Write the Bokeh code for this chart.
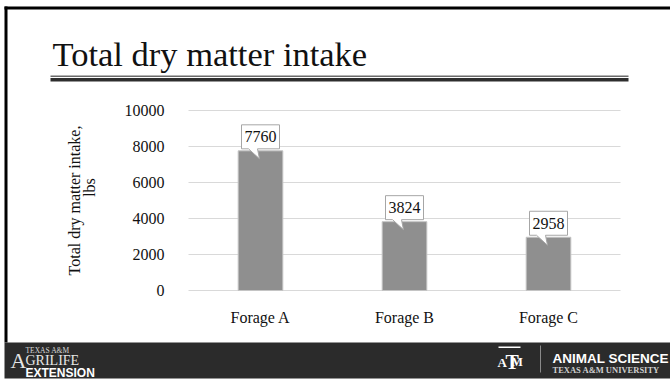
import math
from bokeh.plotting import figure
from bokeh.models import Range1d, FixedTicker, LabelSet, ColumnDataSource
from bokeh.core.properties import value
from bokeh.embed import file_html
from bokeh.resources import INLINE

# ---- data ----
categories = ["Forage A", "Forage B", "Forage C"]
intake_lbs = [7760, 3824, 2958]
y_ticks = [0, 2000, 4000, 6000, 8000, 10000]
y_max = 10000
title_text = "Total dry matter intake"
y_title_lines = ["Total dry matter intake,", "lbs"]

# ---- layout (canvas pixels) ----
W, H = 670, 381
CL, CR, CT, CB = 188, 620, 110, 290   # chart area inside the canvas
SERIF = "Liberation Serif"
SANS = "Liberation Sans"

ncat = len(categories)
sx = ncat / (CR - CL)          # data units per pixel (x)
sy = y_max / (CB - CT)         # data units per pixel (y)

p = figure(width=W, height=H, output_backend="svg", toolbar_location=None,
           x_range=Range1d(-CL * sx, (W - CL) * sx),
           y_range=Range1d(-(H - CB) * sy, CB * sy),
           min_border=0)
p.title = None
p.outline_line_color = None
p.background_fill_color = "white"
p.border_fill_color = "white"
p.extra_x_ranges = {"px": Range1d(0, W)}
p.extra_y_ranges = {"px": Range1d(0, H)}

xs = [i + 0.5 for i in range(ncat)]
src = ColumnDataSource(dict(x=xs, top=intake_lbs, label=[str(v) for v in intake_lbs]))

# axes placed inside the frame
p.xgrid.visible = False
p.ygrid.visible = False
for ax in (p.xaxis[0], p.yaxis[0]):
    ax.axis_line_color = None
    ax.major_tick_line_color = None
    ax.minor_tick_line_color = None
    ax.major_label_text_font = SERIF
    ax.major_label_text_font_size = "16px"
    ax.major_label_text_color = "#111111"
    ax.fixed_location = 0
p.yaxis.ticker = FixedTicker(ticks=y_ticks)
p.yaxis.major_label_standoff = 18
p.xaxis.ticker = FixedTicker(ticks=xs)
p.xaxis.major_label_overrides = {x: c for x, c in zip(xs, categories)}
p.xaxis.major_label_standoff = 12

# gridlines across the chart area only
p.segment(x0=[0] * len(y_ticks), x1=[ncat] * len(y_ticks), y0=y_ticks, y1=y_ticks,
          line_color="#d9d9d9", line_width=1)

# bars
p.vbar(x="x", top="top", width=0.31, source=src, fill_color="#8f8f8f",
       line_color="#c4c4c4", line_width=1)

# callouts (pixel offsets converted to data units)
shape = [(-19, 26), (19, 26), (19, 2), (-3, 2), (-1, -8), (-12, 2), (-19, 2)]
cxs, cys = [], []
for cx, v in zip(xs, intake_lbs):
    cxs.append([cx + dx * sx for dx, dy in shape])
    cys.append([v + dy * sy for dx, dy in shape])
p.patches(cxs, cys, fill_color="white", line_color="#a6a6a6", line_width=1)
p.add_layout(LabelSet(x="x", y="top", text="label", source=src, y_offset=14,
                      text_align="center", text_baseline="middle",
                      text_font=SERIF, text_font_size="16px", text_color="#111111"))

# ---- slide decorations in canvas pixels (y measured from top) ----
def box(x1, y1, x2, y2, color):
    p.quad(left=[x1], right=[x2], top=[H - y1], bottom=[H - y2], fill_color=color,
           line_color=None, x_range_name="px", y_range_name="px")

def lab(text, x, base, size, font=SERIF, color="#111111", align="left",
        angle=0, style="normal", mid=None):
    # position given by the alphabetic baseline, converted to a middle anchor
    y = mid if mid is not None else base - 0.34 * size
    p.text(x=[x], y=[H - y], text=[text], text_font=value(font),
           text_font_size=value(f"{size}px"), text_color=color, text_align=align,
           text_baseline="middle", angle=angle, text_font_style=style,
           x_range_name="px", y_range_name="px")

# border
box(4, 6, 670, 9, "black")
box(4, 6, 7, 342, "black")
# title + underline
lab(title_text, 52, 65, 34.5)
box(50, 75, 628, 76.5, "#6a6a6a")
box(50, 77.5, 628, 81, "#2e2e2e")
# y axis title
lab(y_title_lines[0], 74, None, 16, align="center", angle=math.pi / 2, mid=200)
lab(y_title_lines[1], 89, None, 16, align="center", angle=math.pi / 2, mid=187)
# footer
box(4, 342, 670, 378, "#2b2b2b")
lab("TEXAS A&M", 25, 352.5, 7.5, color="#d8d8d8")
lab("A", 10, 367, 22, color="#e6e6e6")
lab("GRILIFE", 25, 364.5, 14, color="#e6e6e6")
lab("EXTENSION", 25, 377, 12, font=SANS, color="white", style="bold")
lab("A", 497, 366, 13, color="white", style="bold")
lab("T", 505, 368, 20, color="white", style="bold")
lab("M", 511, 366, 12, color="white", style="bold")
box(498, 346, 520, 347.5, "white")
box(539.5, 345, 540.5, 372, "#8a8a8a")
lab("ANIMAL SCIENCE", 552, 363, 13.5, font=SANS, color="white", style="bold")
lab("TEXAS A&M UNIVERSITY", 552, 372.5, 8.5, color="#cfcfcf", style="bold")

open("out.html", "w").write(file_html(p, INLINE))
